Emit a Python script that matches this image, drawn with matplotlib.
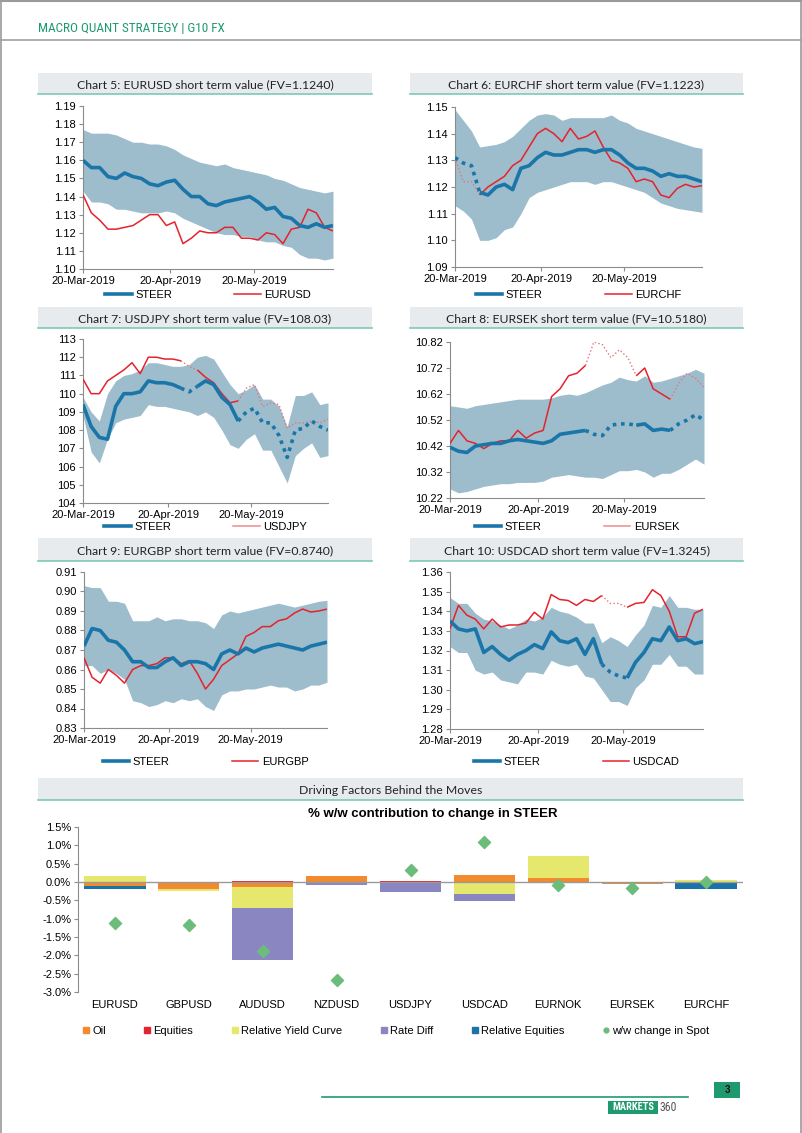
import numpy as np
import pandas as pd
import matplotlib
matplotlib.use('Agg')
import matplotlib.pyplot as plt
import matplotlib.dates as mdates
from matplotlib import font_manager
from matplotlib.patches import Rectangle
from matplotlib.lines import Line2D
from matplotlib.ticker import FormatStrFormatter

plt.rcParams['font.family'] = ['Liberation Sans', 'DejaVu Sans']

W, H = 802, 1133

# ---- data ----
dates = pd.date_range('2019-03-20', '2019-06-17', periods=31)

eurusd_steer = [1.160, 1.156, 1.156, 1.151, 1.150, 1.153, 1.151, 1.150, 1.147, 1.146, 1.148, 1.149, 1.144, 1.140, 1.140, 1.136,
                1.135, 1.137, 1.138, 1.139, 1.140, 1.137, 1.133, 1.134, 1.129, 1.128, 1.124, 1.123, 1.125, 1.123, 1.124]
eurusd_up = [1.177, 1.175, 1.175, 1.175, 1.174, 1.172, 1.170, 1.170, 1.169, 1.169, 1.168, 1.166, 1.163, 1.161, 1.159, 1.158,
             1.157, 1.158, 1.156, 1.155, 1.154, 1.153, 1.152, 1.150, 1.149, 1.147, 1.145, 1.144, 1.143, 1.142, 1.143]
eurusd_lo = [1.143, 1.137, 1.137, 1.136, 1.133, 1.133, 1.132, 1.131, 1.131, 1.131, 1.132, 1.131, 1.128, 1.126, 1.124, 1.122,
             1.120, 1.119, 1.119, 1.118, 1.118, 1.116, 1.115, 1.115, 1.113, 1.112, 1.108, 1.106, 1.106, 1.105, 1.106]
eurusd_spot = [1.141, 1.131, 1.127, 1.122, 1.122, 1.123, 1.124, 1.127, 1.130, 1.130, 1.124, 1.126, 1.114, 1.117, 1.121, 1.120,
               1.120, 1.123, 1.123, 1.117, 1.117, 1.116, 1.120, 1.119, 1.114, 1.122, 1.123, 1.133, 1.131, 1.123, 1.121]

eurchf_steer = [1.131, 1.129, 1.128, 1.118, 1.117, 1.120, 1.121, 1.119, 1.127, 1.128, 1.131, 1.133, 1.132, 1.132, 1.133, 1.134,
                1.134, 1.133, 1.134, 1.134, 1.132, 1.129, 1.127, 1.127, 1.126, 1.124, 1.125, 1.124, 1.124, 1.123, 1.122]
eurchf_up = [1.149, 1.145, 1.141, 1.135, 1.1355, 1.136, 1.137, 1.139, 1.142, 1.145, 1.147, 1.1475, 1.147, 1.145, 1.146, 1.146,
             1.146, 1.146, 1.146, 1.147, 1.145, 1.144, 1.142, 1.141, 1.140, 1.139, 1.138, 1.137, 1.136, 1.135, 1.1345]
eurchf_lo = [1.113, 1.111, 1.108, 1.100, 1.100, 1.101, 1.104, 1.105, 1.110, 1.116, 1.118, 1.119, 1.120, 1.121, 1.122, 1.122,
             1.122, 1.121, 1.122, 1.122, 1.121, 1.120, 1.119, 1.118, 1.116, 1.114, 1.113, 1.112, 1.1115, 1.111, 1.1105]
eurchf_spot = [1.131, 1.122, 1.122, 1.117, 1.120, 1.122, 1.124, 1.128, 1.130, 1.135, 1.140, 1.142, 1.140, 1.137, 1.142, 1.138,
               1.139, 1.141, 1.135, 1.130, 1.129, 1.127, 1.122, 1.123, 1.122, 1.117, 1.116, 1.1195, 1.121, 1.120, 1.1205]

usdjpy_steer = [109.4, 108.2, 107.6, 107.5, 109.3, 110.0, 110.0, 110.1, 110.7, 110.6, 110.6, 110.5, 110.3, 110.1, 110.4, 110.7,
                110.5, 109.8, 109.4, 108.5, 109.0, 109.2, 108.4, 108.4, 107.7, 106.5, 108.0, 108.1, 108.5, 108.2, 108.0]
usdjpy_up = [109.8, 109.0, 108.5, 110.0, 110.7, 111.0, 111.1, 111.3, 111.7, 111.7, 111.6, 111.5, 111.5, 111.6, 112.0, 112.1,
             111.9, 111.2, 110.5, 110.0, 110.2, 110.5, 109.7, 109.7, 109.3, 108.2, 109.9, 109.9, 110.1, 109.4, 109.5]
usdjpy_lo = [108.8, 106.8, 106.2, 107.5, 108.4, 108.6, 108.7, 108.8, 109.4, 109.3, 109.3, 109.2, 109.1, 109.0, 108.8, 109.0,
             108.7, 108.0, 107.2, 107.0, 107.5, 107.8, 106.9, 106.9, 106.0, 105.1, 106.6, 107.0, 107.3, 106.5, 106.6]
usdjpy_spot = [110.8, 110.0, 110.0, 110.7, 111.0, 111.3, 111.7, 111.1, 112.0, 112.0, 111.9, 111.9, 111.8, 111.5, 111.3, 110.9,
               110.6, 110.0, 109.5, 109.6, 110.3, 110.5, 109.3, 109.5, 109.4, 108.1, 108.4, 108.4, 108.5, 108.4, 108.6]

eursek_steer = [10.415, 10.40, 10.395, 10.42, 10.425, 10.43, 10.43, 10.44, 10.445, 10.44, 10.435, 10.43, 10.44, 10.465, 10.47, 10.475,
                10.48, 10.465, 10.46, 10.50, 10.505, 10.505, 10.50, 10.505, 10.48, 10.485, 10.48, 10.505, 10.52, 10.54, 10.52]
eursek_up = [10.575, 10.57, 10.565, 10.575, 10.58, 10.585, 10.59, 10.595, 10.60, 10.60, 10.60, 10.60, 10.605, 10.615, 10.62, 10.615,
             10.625, 10.64, 10.655, 10.665, 10.685, 10.675, 10.67, 10.69, 10.665, 10.67, 10.68, 10.69, 10.70, 10.715, 10.70]
eursek_lo = [10.255, 10.24, 10.245, 10.255, 10.265, 10.27, 10.275, 10.275, 10.28, 10.28, 10.28, 10.285, 10.30, 10.305, 10.31, 10.305,
             10.30, 10.30, 10.295, 10.31, 10.325, 10.325, 10.33, 10.32, 10.30, 10.315, 10.315, 10.33, 10.35, 10.37, 10.35]
eursek_spot = [10.43, 10.48, 10.44, 10.43, 10.41, 10.43, 10.44, 10.44, 10.48, 10.45, 10.47, 10.48, 10.61, 10.64, 10.69, 10.70,
               10.73, 10.82, 10.81, 10.76, 10.79, 10.76, 10.69, 10.72, 10.64, 10.62, 10.60, 10.66, 10.70, 10.68, 10.645]

eurgbp_steer = [0.872, 0.881, 0.880, 0.875, 0.874, 0.870, 0.864, 0.864, 0.861, 0.861, 0.864, 0.866, 0.862, 0.864, 0.864, 0.863,
                0.860, 0.868, 0.870, 0.868, 0.871, 0.869, 0.871, 0.872, 0.873, 0.872, 0.871, 0.870, 0.872, 0.873, 0.874]
eurgbp_up = [0.903, 0.902, 0.902, 0.895, 0.895, 0.894, 0.885, 0.885, 0.885, 0.887, 0.885, 0.886, 0.886, 0.885, 0.885, 0.884,
             0.881, 0.888, 0.890, 0.889, 0.890, 0.891, 0.892, 0.893, 0.894, 0.893, 0.892, 0.893, 0.894, 0.895, 0.8955]
eurgbp_lo = [0.862, 0.862, 0.858, 0.860, 0.858, 0.855, 0.844, 0.843, 0.841, 0.842, 0.844, 0.843, 0.845, 0.844, 0.845, 0.841,
             0.839, 0.847, 0.849, 0.849, 0.850, 0.850, 0.851, 0.852, 0.851, 0.851, 0.849, 0.850, 0.852, 0.852, 0.8535]
eurgbp_spot = [0.866, 0.856, 0.853, 0.860, 0.857, 0.853, 0.860, 0.862, 0.862, 0.863, 0.866, 0.866, 0.863, 0.8645, 0.858, 0.850,
               0.855, 0.862, 0.865, 0.868, 0.877, 0.879, 0.882, 0.882, 0.885, 0.886, 0.889, 0.891, 0.8895, 0.890, 0.891]

usdcad_steer = [1.335, 1.331, 1.330, 1.331, 1.319, 1.322, 1.318, 1.315, 1.318, 1.320, 1.323, 1.321, 1.3295, 1.325, 1.324, 1.326,
                1.318, 1.326, 1.313, 1.309, 1.307, 1.306, 1.314, 1.319, 1.326, 1.325, 1.332, 1.325, 1.326, 1.3235, 1.3245]
usdcad_up = [1.347, 1.344, 1.344, 1.339, 1.336, 1.335, 1.333, 1.331, 1.333, 1.336, 1.335, 1.337, 1.342, 1.340, 1.339, 1.337,
             1.334, 1.334, 1.324, 1.327, 1.325, 1.322, 1.328, 1.333, 1.343, 1.342, 1.348, 1.342, 1.342, 1.341, 1.341]
usdcad_lo = [1.322, 1.319, 1.319, 1.310, 1.308, 1.309, 1.305, 1.304, 1.303, 1.309, 1.309, 1.308, 1.315, 1.313, 1.312, 1.313,
             1.307, 1.306, 1.300, 1.294, 1.294, 1.292, 1.301, 1.305, 1.313, 1.313, 1.318, 1.312, 1.312, 1.308, 1.308]
usdcad_spot = [1.331, 1.343, 1.338, 1.336, 1.331, 1.336, 1.332, 1.333, 1.333, 1.334, 1.3395, 1.336, 1.3485, 1.346, 1.3455, 1.343,
               1.346, 1.345, 1.348, 1.344, 1.344, 1.342, 1.344, 1.3445, 1.351, 1.348, 1.340, 1.327, 1.327, 1.339, 1.341]

# bar chart
pairs = ['EURUSD', 'GBPUSD', 'AUDUSD', 'NZDUSD', 'USDJPY', 'USDCAD', 'EURNOK', 'EURSEK', 'EURCHF']
oil = [-0.10, -0.20, -0.13, 0.17, 0.0, 0.20, 0.11, -0.05, 0.0]
equities = [0.0, 0.0, 0.03, 0.0, 0.04, 0.0, 0.0, 0.0, 0.0]
rel_yield = [0.17, -0.05, -0.59, 0.0, 0.0, -0.33, 0.61, -0.01, 0.06]
rate_diff = [0.0, 0.0, -1.42, -0.08, -0.28, -0.18, 0.0, 0.0, 0.0]
rel_equities = [-0.08, 0.0, 0.0, 0.0, 0.0, 0.0, 0.0, 0.0, -0.19]
spot_change = [-1.12, -1.17, -1.87, -2.66, 0.34, 1.10, -0.09, -0.15, 0.01]

# ---- styles ----
GREEN = '#1f9a6f'
BAND = '#9dbccc'
STEER_C = '#1a76a9'
SPOT_C = '#e5232c'
BOX_C = '#e8ebed'
BOX_LINE = '#7ec8b8'
AX_C = '#8c8c8c'
TITLE_FONT = ['Lato', 'DejaVu Sans']

installed = {f.name for f in font_manager.fontManager.ttflist}
narrow = [n for n in ['Liberation Sans Narrow', 'Arial Narrow', 'Roboto Condensed'] if n in installed]
if narrow:
    NARROW_FONT, head_size, mk_size = narrow[0], 9.5, 7.5
else:
    NARROW_FONT, head_size, mk_size = 'Liberation Sans', 7.6, 6.0

fig = plt.figure(figsize=(W / 100, H / 100), dpi=100)


def fx(x):
    return x / W


def fy(y):
    return 1 - y / H


def axes_px(l, t, r, b):
    return fig.add_axes([fx(l), fy(b), (r - l) / W, (b - t) / H])


def title_box(l, t, r, b, text):
    fig.add_artist(Rectangle((fx(l), fy(b)), (r - l) / W, (b - t) / H, transform=fig.transFigure,
                             facecolor=BOX_C, edgecolor='none'))
    fig.add_artist(Line2D([fx(l), fx(r)], [fy(b), fy(b)], color=BOX_LINE, lw=1.2))
    fig.text(fx((l + r) / 2), fy((t + b) / 2 + 1), text, ha='center', va='center',
             family=TITLE_FONT, fontsize=8.8, color='#222222')


def draw_split(ax, vals, dots, color, lw, dcolor, dlw, dstyle):
    vals = np.array(vals, dtype=float)
    solid = vals.copy()
    for a, b in dots:
        solid[a + 1:b] = np.nan
        ax.plot(dates[a:b + 1], vals[a:b + 1], color=dcolor, lw=dlw, linestyle=dstyle, zorder=3)
    ax.plot(dates, solid, color=color, lw=lw, zorder=3, solid_capstyle='butt')


def fx_chart(box, steer, up, lo, spot, dots, ylo, yhi, nt, fmt, name, leg_dy, spot_leg=SPOT_C):
    l, t, r, b = box
    ax = axes_px(l, t, r, b)
    ax.fill_between(dates, lo, up, color=BAND, lw=0, zorder=1)
    draw_split(ax, spot, dots, SPOT_C, 1.1, '#e8737a', 1.0, ':')
    draw_split(ax, steer, dots, STEER_C, 2.6, STEER_C, 2.6, (0, (1, 1.3)))
    ax.set_xlim(dates[0], dates[-1])
    ax.set_ylim(ylo, yhi)
    ax.set_yticks(np.linspace(ylo, yhi, nt))
    ax.yaxis.set_major_formatter(FormatStrFormatter(fmt))
    ax.set_xticks(pd.to_datetime(['2019-03-20', '2019-04-20', '2019-05-20']))
    ax.xaxis.set_major_formatter(mdates.DateFormatter('%d-%b-%Y'))
    ax.tick_params(labelsize=8, length=3, color=AX_C, pad=2)
    for s in ['top', 'right']:
        ax.spines[s].set_visible(False)
    for s in ['left', 'bottom']:
        ax.spines[s].set_color(AX_C)
    handles = [Line2D([], [], color=STEER_C, lw=2.6), Line2D([], [], color=spot_leg, lw=1.1)]
    ax.legend(handles, ['STEER', name], loc='center', bbox_to_anchor=(0.5, -leg_dy / (b - t)), ncol=2,
              frameon=False, fontsize=8, handlelength=2.4, handletextpad=0.3, columnspacing=5.6,
              borderpad=0)
    return ax


# page furniture
fig.add_artist(Line2D([0, 1], [fy(0.5), fy(0.5)], color='#9a9a9a', lw=1.5))
fig.add_artist(Line2D([fx(0.6), fx(0.6)], [0, 1], color='#9a9a9a', lw=1.2))
fig.add_artist(Line2D([fx(801.4), fx(801.4)], [0, 1], color='#9a9a9a', lw=1.2))
fig.add_artist(Line2D([0, 1], [fy(40), fy(40)], color='#a0a0a0', lw=1.2))
fig.text(fx(38), fy(28), 'MACRO QUANT STRATEGY | G10 FX', color=GREEN, fontsize=head_size, va='center',
         family=NARROW_FONT)

title_box(38, 73, 372, 94, 'Chart 5: EURUSD short term value (FV=1.1240)')
title_box(410, 73, 743, 94, 'Chart 6: EURCHF short term value (FV=1.1223)')
title_box(38, 307, 372, 328, 'Chart 7: USDJPY short term value (FV=108.03)')
title_box(410, 307, 743, 328, 'Chart 8: EURSEK short term value (FV=10.5180)')
title_box(38, 538, 372, 561, 'Chart 9: EURGBP short term value (FV=0.8740)')
title_box(410, 538, 743, 561, 'Chart 10: USDCAD short term value (FV=1.3245)')
title_box(38, 778, 743, 800, 'Driving Factors Behind the Moves')

fx_chart((83, 106, 333, 269), eurusd_steer, eurusd_up, eurusd_lo, eurusd_spot, [],
         1.10, 1.19, 10, '%.2f', 'EURUSD', 26)
fx_chart((455, 107, 702, 267), eurchf_steer, eurchf_up, eurchf_lo, eurchf_spot, [(0, 3)],
         1.09, 1.15, 7, '%.2f', 'EURCHF', 28)
fx_chart((83, 339, 328, 503), usdjpy_steer, usdjpy_up, usdjpy_lo, usdjpy_spot, [(12, 14), (19, 30)],
         104, 113, 10, '%.0f', 'USDJPY', 24, spot_leg='#ee8a90')
fx_chart((450, 342, 704, 498), eursek_steer, eursek_up, eursek_lo, eursek_spot, [(16, 22), (26, 30)],
         10.22, 10.82, 7, '%.2f', 'EURSEK', 29, spot_leg='#ee8a90')
fx_chart((84, 572, 327, 728), eurgbp_steer, eurgbp_up, eurgbp_lo, eurgbp_spot, [],
         0.83, 0.91, 9, '%.2f', 'EURGBP', 34)
fx_chart((450, 572, 703, 729), usdcad_steer, usdcad_up, usdcad_lo, usdcad_spot, [(18, 21)],
         1.28, 1.36, 9, '%.2f', 'USDCAD', 33)

# ---- contribution bar chart ----
axb = axes_px(78, 827, 743, 992)
x = np.arange(len(pairs))
series = [('Oil', oil, '#f28a2e'), ('Equities', equities, '#e3242f'),
          ('Relative Yield Curve', rel_yield, '#e6e86e'), ('Rate Diff', rate_diff, '#8a86c2'),
          ('Relative Equities', rel_equities, '#1b72a6')]
pos = np.zeros(len(pairs))
neg = np.zeros(len(pairs))
handles = []
for label, vals, col in series:
    v = np.array(vals)
    bottom = np.where(v >= 0, pos, neg)
    axb.bar(x, v, bottom=bottom, width=0.83, color=col, zorder=2)
    pos += np.clip(v, 0, None)
    neg += np.clip(v, None, 0)
    handles.append(Line2D([], [], marker='s', ls='', color=col, markersize=4.5))
axb.scatter(x, spot_change, marker='D', s=38, color='#6cbd7b', zorder=4)
handles.append(Line2D([], [], marker='o', ls='', color='#6cbd7b', markersize=3.5))
axb.axhline(0, color='#9a9a9a', lw=1, zorder=3)
axb.set_xlim(-0.5, len(pairs) - 0.5)
axb.set_ylim(-3.0, 1.5)
axb.set_yticks(np.linspace(-3.0, 1.5, 10))
axb.yaxis.set_major_formatter(FormatStrFormatter('%.1f%%'))
axb.set_xticks(x)
axb.set_xticklabels(pairs)
axb.tick_params(axis='x', length=0, pad=6, labelsize=8)
axb.tick_params(axis='y', length=3, color=AX_C, labelsize=8, pad=2)
for s in ['top', 'right', 'bottom']:
    axb.spines[s].set_visible(False)
axb.spines['left'].set_color(AX_C)
axb.legend(handles, [s[0] for s in series] + ['w/w change in Spot'], loc='center',
           bbox_to_anchor=(0.478, -39 / 165), ncol=6, frameon=False, fontsize=8,
           handlelength=0.6, handletextpad=0.25, columnspacing=3.45, borderpad=0)
fig.text(fx(433), fy(814), '% w/w contribution to change in STEER', ha='center', va='center',
         fontsize=9.5, fontweight='bold')

# ---- footer ----
fig.add_artist(Line2D([fx(322), fx(688)], [fy(1097), fy(1097)], color=GREEN, lw=1.2))
fig.add_artist(Rectangle((fx(714), fy(1098)), 26 / W, 16 / H, transform=fig.transFigure,
                         facecolor=GREEN, edgecolor='none'))
fig.text(fx(727), fy(1090), '3', ha='center', va='center', fontsize=7, fontweight='bold', color='#111111')
fig.add_artist(Rectangle((fx(608), fy(1114)), 50 / W, 13 / H, transform=fig.transFigure,
                         facecolor=GREEN, edgecolor='none'))
fig.text(fx(633), fy(1107.5), 'MARKETS', ha='center', va='center', fontsize=mk_size, fontweight='bold',
         color='white', family=NARROW_FONT)
fig.text(fx(660), fy(1107.5), '360', ha='left', va='center', fontsize=8.5, color='#555555',
         family=NARROW_FONT)

fig.savefig('out.png', dpi=100)
